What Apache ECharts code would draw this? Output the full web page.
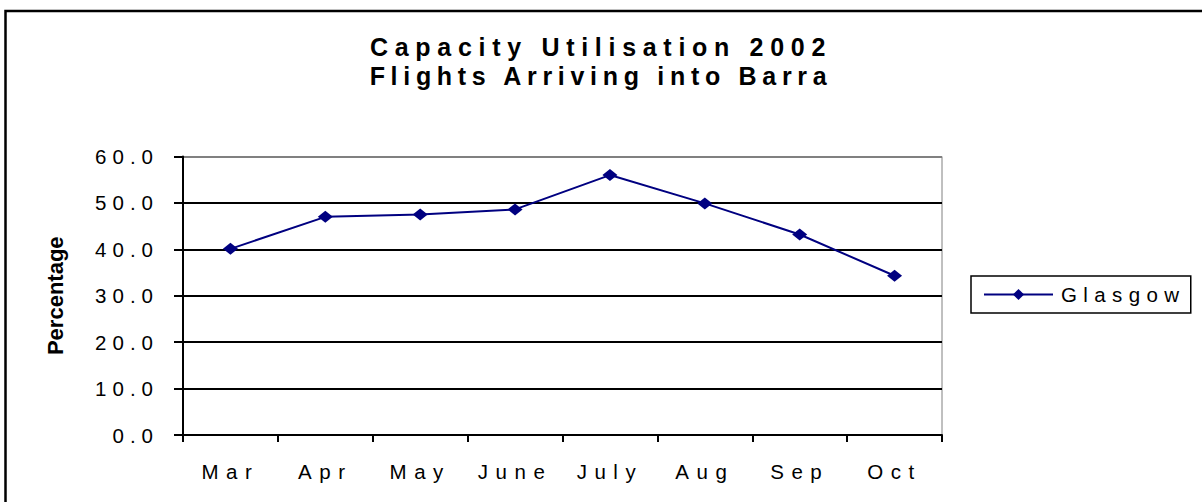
<!DOCTYPE html>
<html>
<head>
<meta charset="utf-8">
<script src="https://cdn.jsdelivr.net/npm/echarts@6/dist/echarts.min.js"></script>
<style>
html,body{margin:0;padding:0;background:#fff;}
#chart{width:1202px;height:502px;}
</style>
</head>
<body>
<div id="chart"></div>
<script>
var titleLines = ['Capacity Utilisation 2002', 'Flights Arriving into Barra'];
var categories = ['Mar', 'Apr', 'May', 'June', 'July', 'Aug', 'Sep', 'Oct'];
var glasgow = [40.1, 47.0, 47.5, 48.6, 56.0, 49.9, 43.2, 34.3];
var seriesName = 'Glasgow';
var yAxisTitle = 'Percentage';
var yMin = 0, yMax = 60, yStep = 10;

var FONT = 'Arial, "Liberation Sans", sans-serif';
var chart = echarts.init(document.getElementById('chart'), null, {renderer: 'svg'});

var option = {
  animation: false,
  backgroundColor: '#ffffff',
  title: {
    text: titleLines.join('\n'),
    left: 'center',
    top: 27,
    padding: [5, 5, 5, 24],
    textStyle: {fontFamily: FONT, fontSize: 25, fontWeight: 'bold', color: '#000', lineHeight: 29}
  },
  legend: {
    left: 971,
    top: 276,
    orient: 'vertical',
    borderColor: '#000',
    borderWidth: 1.5,
    padding: [8, 50, 8, 12],
    itemWidth: 69,
    itemHeight: 14,
    textStyle: {fontFamily: FONT, fontSize: 20.5, color: '#000', padding: [0, 0, 0, 3]},
    data: [seriesName]
  },
  grid: {
    left: 183, top: 156.5, width: 759, height: 278.5,
    show: true, borderColor: '#808080', borderWidth: 1, backgroundColor: '#fff',
    containLabel: false
  },
  xAxis: {
    type: 'category',
    data: categories,
    boundaryGap: true,
    axisLine: {lineStyle: {color: '#000', width: 2}},
    axisTick: {show: true, length: 7, inside: false, alignWithLabel: false, lineStyle: {color: '#000', width: 2}},
    axisLabel: {fontFamily: FONT, fontSize: 20.5, color: '#000', margin: 26, interval: 0}
  },
  yAxis: {
    type: 'value',
    min: yMin, max: yMax, interval: yStep,
    name: yAxisTitle,
    nameLocation: 'middle',
    nameRotate: 90,
    nameGap: 117,
    nameTextStyle: {fontFamily: FONT, fontSize: 22, fontWeight: 'bold', color: '#000'},
    axisLine: {show: true, lineStyle: {color: '#000', width: 2}},
    axisTick: {show: true, length: 9, inside: false, lineStyle: {color: '#000', width: 2}},
    axisLabel: {fontFamily: FONT, fontSize: 20.5, color: '#000', margin: 24,
      formatter: function (v) { return v.toFixed(1); }},
    splitLine: {show: true, lineStyle: {color: ['#000','#000','#000','#000','#000','#000','#808080'], width: 2}}
  },
  series: [{
    name: seriesName,
    type: 'line',
    data: glasgow,
    color: '#000080',
    symbol: 'diamond',
    symbolSize: [15, 12],
    showAllSymbol: true,
    lineStyle: {color: '#000080', width: 2},
    itemStyle: {color: '#000080'}
  }],
  graphic: [{
    type: 'rect',
    silent: true,
    shape: {x: 5.5, y: 11, width: 1300, height: 600},
    style: {fill: 'none', stroke: '#000', lineWidth: 2.5},
    z: 100
  }]
};
chart.setOption(option);

var spacing = {};
spacing[titleLines[0]] = 6.7;
spacing[titleLines[1]] = 5.7;
spacing[seriesName] = 6.4;
categories.forEach(function (c) { spacing[c] = 7.5; });
for (var v = yMin; v <= yMax; v += yStep) { spacing[v.toFixed(1)] = 6.0; }

function applySpacing() {
  var texts = document.querySelectorAll('#chart svg text');
  texts.forEach(function (t) {
    var s = spacing[t.textContent];
    if (s) { t.style.letterSpacing = s + 'px'; }
  });
}
applySpacing();
chart.on('finished', applySpacing);
setTimeout(applySpacing, 0);
</script>
</body>
</html>
